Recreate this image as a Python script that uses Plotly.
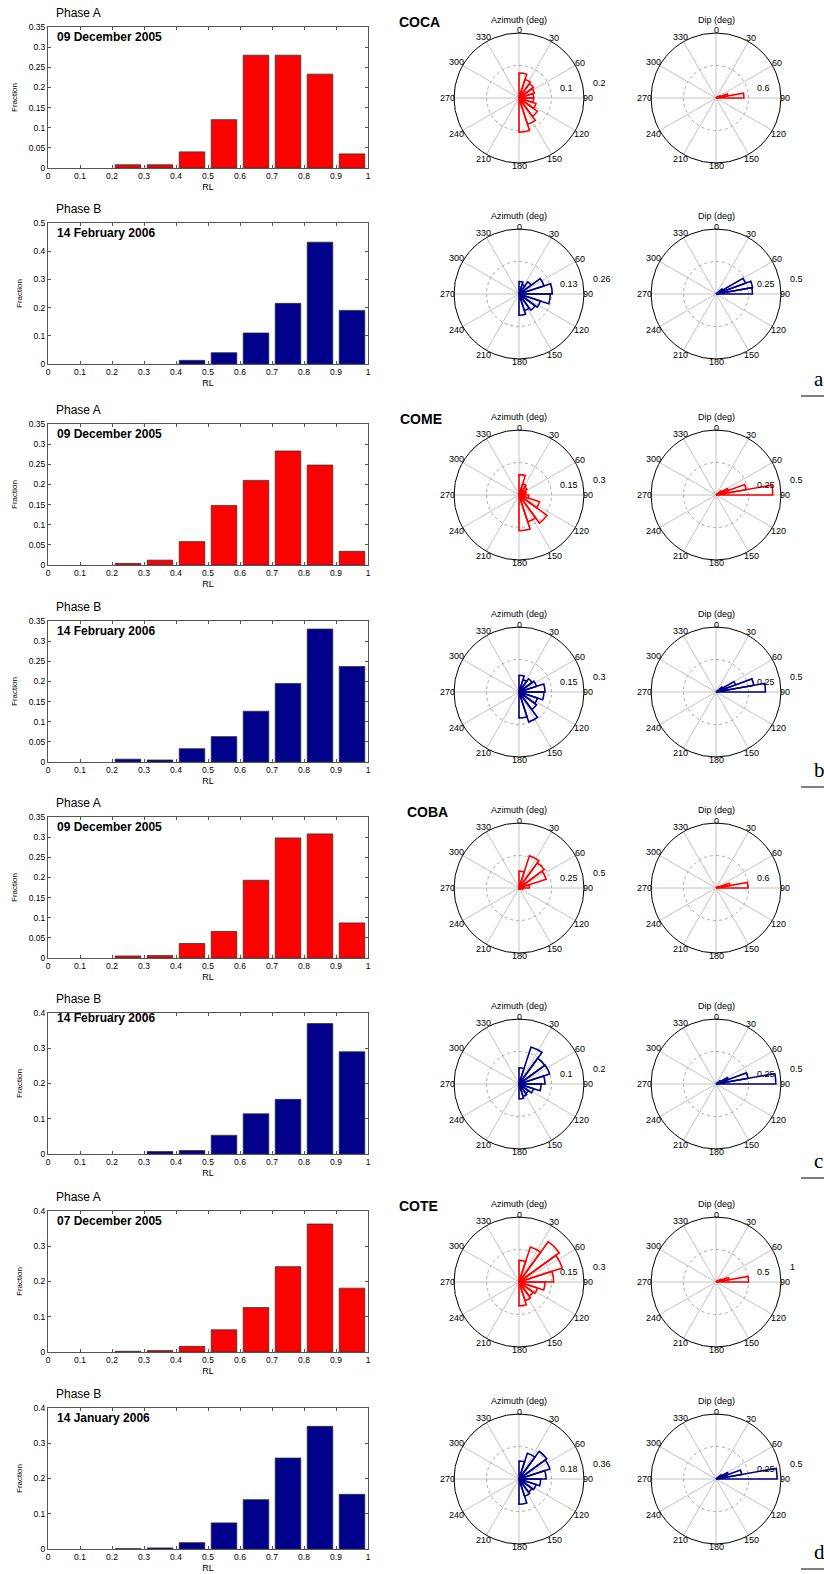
import math
import plotly.graph_objects as go

W, H = 824, 1574
FONT = "Arial, 'Liberation Sans', Helvetica, sans-serif"
SERIF = "'Times New Roman', 'Liberation Serif', serif"

# ---------------- data ----------------
RL_CENTERS = [0.05, 0.15, 0.25, 0.35, 0.45, 0.55, 0.65, 0.75, 0.85, 0.95]
RL_TICKS = [0, 0.1, 0.2, 0.3, 0.4, 0.5, 0.6, 0.7, 0.8, 0.9, 1.0]
AZ_CENTERS = [9, 27, 45, 63, 81, 99, 117, 135, 153, 171]   # 18 deg bins
DIP_CENTERS = [45, 55, 65, 75, 85]                          # 10 deg bins
COMPASS = list(range(0, 360, 30))

STATIONS = ["COCA", "COME", "COBA", "COTE"]
PHASES = ["Phase A", "Phase B"]
DATES = ["09 December 2005", "14 February 2006",
         "09 December 2005", "14 February 2006",
         "09 December 2005", "14 February 2006",
         "07 December 2005", "14 January 2006"]

# RL histograms: fraction of events per 0.1 bin
rl_coca_a = [0, 0, 0.008, 0.008, 0.040, 0.120, 0.280, 0.280, 0.233, 0.035]
rl_coca_b = [0, 0, 0, 0, 0.013, 0.040, 0.110, 0.215, 0.432, 0.190]
rl_come_a = [0, 0, 0.004, 0.012, 0.058, 0.148, 0.210, 0.283, 0.248, 0.034]
rl_come_b = [0, 0, 0.007, 0.005, 0.033, 0.063, 0.126, 0.195, 0.330, 0.237]
rl_coba_a = [0, 0, 0.005, 0.006, 0.036, 0.066, 0.193, 0.298, 0.308, 0.087]
rl_coba_b = [0, 0, 0, 0.007, 0.010, 0.053, 0.114, 0.155, 0.370, 0.290]
rl_cote_a = [0, 0, 0.002, 0.004, 0.016, 0.063, 0.126, 0.242, 0.363, 0.181]
rl_cote_b = [0, 0, 0.001, 0.003, 0.018, 0.074, 0.140, 0.258, 0.348, 0.155]
RL_YMAX = [0.35, 0.5, 0.35, 0.35, 0.35, 0.4, 0.4, 0.4]
RL_YSTEP = [0.05, 0.1, 0.05, 0.05, 0.05, 0.1, 0.1, 0.1]

# Azimuth roses: fraction per 18 deg bin (0-180)
az_coca_a = [0.077, 0.060, 0.055, 0.050, 0.045, 0.045, 0.055, 0.070, 0.085, 0.105]
az_coca_b = [0.050, 0.040, 0.060, 0.105, 0.133, 0.125, 0.090, 0.080, 0.070, 0.085]
az_come_a = [0.094, 0.055, 0.045, 0.035, 0.030, 0.045, 0.100, 0.160, 0.130, 0.165]
az_come_b = [0.077, 0.060, 0.075, 0.085, 0.120, 0.115, 0.090, 0.100, 0.145, 0.120]
az_coba_a = [0.130, 0.260, 0.240, 0.220, 0.080, 0.030, 0.010, 0.005, 0.005, 0.010]
az_coba_b = [0.050, 0.120, 0.098, 0.099, 0.080, 0.068, 0.047, 0.036, 0.040, 0.046]
az_cote_a = [0.100, 0.170, 0.230, 0.210, 0.160, 0.120, 0.090, 0.080, 0.090, 0.110]
az_cote_b = [0.100, 0.150, 0.190, 0.180, 0.150, 0.120, 0.100, 0.090, 0.100, 0.140]
AZ_RMAX = [0.2, 0.26, 0.3, 0.3, 0.5, 0.2, 0.3, 0.36]

# Dip roses: fraction per 10 deg bin (40-90)
dip_coca_a = [0, 0.030, 0.080, 0.220, 0.515]
dip_coca_b = [0, 0.060, 0.240, 0.285, 0.280]
dip_come_a = [0, 0.050, 0.100, 0.235, 0.437]
dip_come_b = [0, 0.060, 0.160, 0.295, 0.380]
dip_coba_a = [0, 0.020, 0.050, 0.260, 0.590]
dip_coba_b = [0, 0.040, 0.100, 0.250, 0.460]
dip_cote_a = [0, 0.030, 0.080, 0.200, 0.500]
dip_cote_b = [0, 0.050, 0.100, 0.200, 0.470]
DIP_RMAX = [1.2, 0.5, 0.5, 0.5, 1.2, 0.5, 1.0, 0.5]
DIP_OUTER_LABEL = [False, True, True, True, False, True, True, True]

RL_SERIES = [rl_coca_a, rl_coca_b, rl_come_a, rl_come_b,
             rl_coba_a, rl_coba_b, rl_cote_a, rl_cote_b]
AZ_SERIES = [az_coca_a, az_coca_b, az_come_a, az_come_b,
             az_coba_a, az_coba_b, az_cote_a, az_cote_b]
DIP_SERIES = [dip_coca_a, dip_coca_b, dip_come_a, dip_come_b,
              dip_coba_a, dip_coba_b, dip_cote_a, dip_cote_b]

RED = "#FF0000"
NAVY = "#00008B"
SECTIONS = ["a", "b", "c", "d"]

# ---------------- layout geometry (pixels) ----------------
ROW_CY = [98, 294, 495, 692, 888, 1084, 1282, 1479]
AZ_CX, DIP_CX, RAD = 519, 716, 65
HX0, HX1 = 48, 368
STATION_X = [397, 398, 405, 397]
DATE_DY = [10, 10, 10, 10, 10, 5, 10, 10]
SECTION_LINE_Y = [396, 787, 1178, 1569]


def px(x):
    return x / W


def py(y):
    return 1 - y / H


def label_radius(angle, text):
    """Pixel distance from the rose centre to the centre of a compass label,
    so that the label just touches the outer ring."""
    a = math.radians(angle)
    half_w = 2.5 * len(text)
    half_h = 3.5
    return RAD - 1 + abs(math.sin(a)) * half_w + abs(math.cos(a)) * half_h


fig = go.Figure()
layout = dict(
    width=W, height=H, margin=dict(l=0, r=0, t=0, b=0),
    paper_bgcolor="white", plot_bgcolor="white", template="none",
    showlegend=False, font=dict(family=FONT, color="black"),
)
annotations = []
shapes = []

for i in range(8):
    cy = ROW_CY[i]
    top, bot = cy - 71, cy + 70
    color = RED if i % 2 == 0 else NAVY
    k = i + 1
    xa, ya = ("x" if k == 1 else f"x{k}"), ("y" if k == 1 else f"y{k}")
    hx = [c for c, v in zip(RL_CENTERS, RL_SERIES[i]) if v > 0]
    hy = [v for v in RL_SERIES[i] if v > 0]
    fig.add_trace(go.Bar(
        x=hx, y=hy, width=0.08,
        marker=dict(color=color, line=dict(color="#333333", width=0.8)),
        xaxis=xa, yaxis=ya, hoverinfo="skip"))
    axis_common = dict(
        showline=True, linecolor="#555555", linewidth=1, mirror="allticks",
        ticks="inside", ticklen=3, tickcolor="#555555", showgrid=False,
        zeroline=False, tickfont=dict(size=8.5, family=FONT))
    layout[f"xaxis{k}" if k > 1 else "xaxis"] = dict(
        axis_common, domain=[px(HX0), px(HX1)], anchor=ya, range=[0, 1],
        tickmode="array", tickvals=RL_TICKS,
        ticktext=[f"{t:g}" for t in RL_TICKS],
        title=dict(text="RL", font=dict(size=9), standoff=3))
    yticks = [round(j * RL_YSTEP[i], 3)
              for j in range(int(round(RL_YMAX[i] / RL_YSTEP[i])) + 1)]
    layout[f"yaxis{k}" if k > 1 else "yaxis"] = dict(
        axis_common, domain=[py(bot), py(top)], anchor=xa,
        range=[0, RL_YMAX[i]], tickmode="array", tickvals=yticks,
        ticktext=[f"{t:g}" for t in yticks],
        title=dict(text="Fraction", font=dict(size=8), standoff=9))

    annotations.append(dict(
        text=PHASES[i % 2], x=px(54), y=py(top - 14), xref="paper",
        yref="paper", xanchor="left", yanchor="middle", showarrow=False,
        font=dict(size=12)))
    annotations.append(dict(
        text=f"<b>{DATES[i]}</b>", x=px(55), y=py(top + DATE_DY[i]),
        xref="paper", yref="paper", xanchor="left", yanchor="middle",
        showarrow=False, font=dict(size=12)))
    if i % 2 == 0:
        annotations.append(dict(
            text=f"<b>{STATIONS[i // 2]}</b>", x=px(STATION_X[i // 2]),
            y=py(cy - 76), xref="paper", yref="paper", xanchor="left",
            yanchor="middle", showarrow=False, font=dict(size=14)))

    # rose diagrams
    for j, (cx, centers, vals, rmax, width, title, outer) in enumerate([
        (AZ_CX, AZ_CENTERS, AZ_SERIES[i], AZ_RMAX[i], 18,
         "Azimuth (deg)", True),
        (DIP_CX, DIP_CENTERS, DIP_SERIES[i], DIP_RMAX[i], 10,
         "Dip (deg)", DIP_OUTER_LABEL[i]),
    ]):
        p = 2 * i + j + 1
        name = "polar" if p == 1 else f"polar{p}"
        th = [c for c, v in zip(centers, vals) if v > 0]
        rr = [v for v in vals if v > 0]
        fig.add_trace(go.Barpolar(
            r=rr, theta=th, width=width, subplot=name,
            marker=dict(color="rgba(0,0,0,0)",
                        line=dict(color=color, width=1.6)),
            hoverinfo="skip"))
        layout[name] = dict(
            domain=dict(x=[px(cx - RAD), px(cx + RAD)],
                        y=[py(cy + RAD), py(cy - RAD)]),
            bgcolor="white",
            angularaxis=dict(
                direction="clockwise", rotation=90, tickmode="array",
                tickvals=COMPASS, showticklabels=False,
                showgrid=True, gridcolor="#C4C4C4", gridwidth=0.8,
                showline=True, linecolor="black", linewidth=1, ticks=""),
            radialaxis=dict(
                range=[0, rmax], tickmode="array",
                tickvals=[rmax / 2, rmax], showticklabels=False,
                showline=False, ticks="", showgrid=True,
                gridcolor="#A8A8A8", gridwidth=0.8, griddash="dot"),
        )
        # compass labels sitting right against the outer ring
        for a in COMPASS:
            t = str(a)
            rho = label_radius(a, t)
            annotations.append(dict(
                text=t, x=px(cx + rho * math.sin(math.radians(a))),
                y=py(cy - rho * math.cos(math.radians(a))),
                xref="paper", yref="paper", xanchor="center",
                yanchor="middle", showarrow=False,
                font=dict(size=9)))
        annotations.append(dict(
            text=title, x=px(cx), y=py(cy - 78), xref="paper", yref="paper",
            xanchor="center", yanchor="middle", showarrow=False,
            font=dict(size=9)))
        annotations.append(dict(
            text=f"{rmax / 2:g}", x=px(cx + RAD / 2 + 6), y=py(cy - 10),
            xref="paper", yref="paper", xanchor="left", yanchor="middle",
            showarrow=False, font=dict(size=9)))
        if outer:
            annotations.append(dict(
                text=f"{rmax:g}", x=px(cx + RAD + 7), y=py(cy - 15),
                xref="paper", yref="paper", xanchor="left",
                yanchor="middle", showarrow=False, font=dict(size=9)))

# section letters at the right edge
for s, ly in zip(SECTIONS, SECTION_LINE_Y):
    shapes.append(dict(type="line", xref="paper", yref="paper",
                       x0=px(801), x1=px(824), y0=py(ly), y1=py(ly),
                       line=dict(color="black", width=1)))
    annotations.append(dict(
        text=s, x=px(812), y=py(ly - 3), xref="paper", yref="paper",
        xanchor="left", yanchor="bottom", showarrow=False,
        font=dict(size=21, family=SERIF)))

layout["annotations"] = annotations
layout["shapes"] = shapes
fig.update_layout(**layout)
fig.write_html("out.html")
